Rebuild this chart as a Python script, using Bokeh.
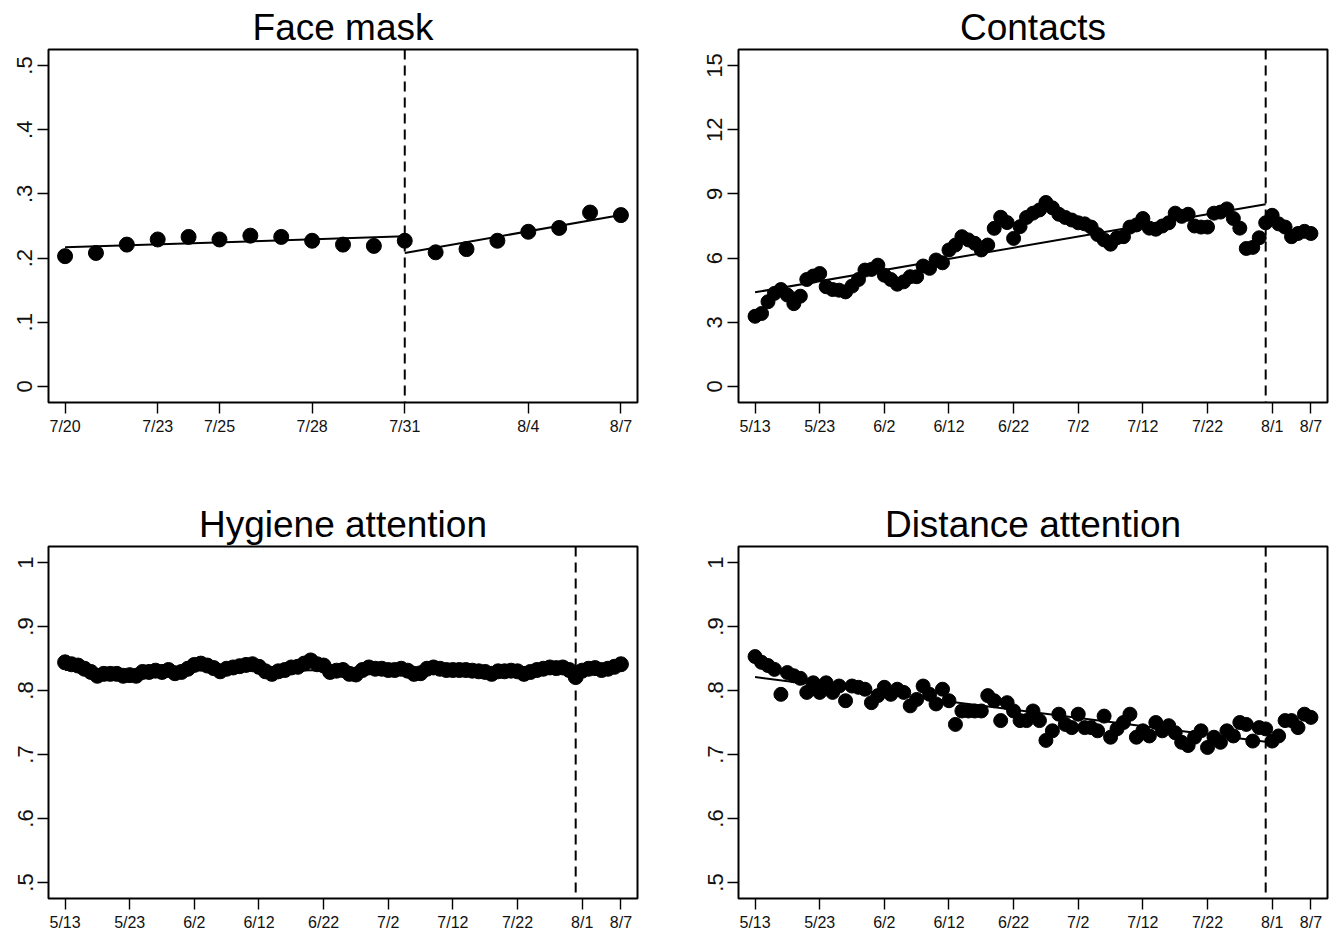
import numpy as np
import pandas as pd
from bokeh.plotting import figure
from bokeh.models import Range1d, FixedTicker, Span, CustomJSTickFormatter
from bokeh.layouts import gridplot
from bokeh.embed import file_html
from bokeh.resources import INLINE

YEAR = 2020

# ---------------- Face mask (7/20 - 8/7) ----------------
mask_start = "7/20"
mask_values = [0.203, 0.208, 0.221, 0.229, 0.233, 0.229, 0.235, 0.233, 0.227,
               0.221, 0.219, 0.227, 0.209, 0.214, 0.227, 0.241, 0.247, 0.271, 0.267]
mask_fit_pre_dates = ["7/20", "7/31"]
mask_fit_pre_values = [0.2167, 0.234]
mask_fit_post_dates = ["7/31", "8/7"]
mask_fit_post_values = [0.208, 0.267]
mask_xticks = ["7/20", "7/23", "7/25", "7/28", "7/31", "8/4", "8/7"]
mask_yticks = [0, 0.1, 0.2, 0.3, 0.4, 0.5]

# ---------------- Daily series (5/13 - 8/7) ----------------
daily_start = "5/13"
contacts_values = [
    3.28, 3.41, 3.96, 4.35, 4.53, 4.27, 3.87, 4.22, 5.00, 5.16,
    5.28, 4.66, 4.53, 4.50, 4.42, 4.69, 5.00, 5.44, 5.47, 5.67,
    5.20, 5.00, 4.78, 4.89, 5.13, 5.13, 5.63, 5.52, 5.91, 5.78,
    6.38, 6.61, 7.00, 6.85, 6.69, 6.38, 6.61, 7.39, 7.91, 7.66,
    6.92, 7.47, 7.90, 8.10, 8.25, 8.60, 8.35, 8.05, 7.90, 7.78,
    7.65, 7.60, 7.45, 7.10, 6.85, 6.65, 6.95, 7.00, 7.45, 7.55,
    7.85, 7.40, 7.35, 7.50, 7.65, 8.10, 7.95, 8.05, 7.50, 7.45,
    7.45, 8.10, 8.15, 8.30, 7.85, 7.40, 6.45, 6.50, 6.95, 7.65,
    8.00, 7.60, 7.45, 7.00, 7.15, 7.25, 7.15]
contacts_fit_dates = ["5/13", "7/31"]
contacts_fit_values = [4.40, 8.52]

hygiene_values = [
    0.844, 0.841, 0.839, 0.834, 0.829, 0.823, 0.826, 0.826, 0.826, 0.823,
    0.824, 0.823, 0.829, 0.829, 0.831, 0.829, 0.832, 0.827, 0.829, 0.834,
    0.840, 0.842, 0.839, 0.835, 0.830, 0.834, 0.836, 0.838, 0.840, 0.841,
    0.837, 0.830, 0.826, 0.830, 0.832, 0.836, 0.837, 0.842, 0.847, 0.841,
    0.839, 0.829, 0.831, 0.832, 0.826, 0.825, 0.832, 0.836, 0.834, 0.834,
    0.832, 0.832, 0.834, 0.831, 0.826, 0.827, 0.834, 0.836, 0.834, 0.832,
    0.832, 0.832, 0.832, 0.831, 0.830, 0.829, 0.826, 0.830, 0.830, 0.831,
    0.830, 0.826, 0.829, 0.832, 0.834, 0.836, 0.835, 0.836, 0.832, 0.821,
    0.831, 0.834, 0.835, 0.832, 0.834, 0.837, 0.841]
hygiene_fit_dates = ["5/13", "7/31"]
hygiene_fit_values = [0.832, 0.831]

distance_values = [
    0.853, 0.844, 0.839, 0.833, 0.794, 0.828, 0.823, 0.819, 0.797, 0.812,
    0.797, 0.812, 0.797, 0.807, 0.784, 0.807, 0.805, 0.802, 0.781, 0.792,
    0.805, 0.794, 0.802, 0.797, 0.776, 0.786, 0.807, 0.794, 0.779, 0.802,
    0.784, 0.747, 0.768, 0.768, 0.768, 0.768, 0.792, 0.784, 0.753, 0.781,
    0.768, 0.753, 0.753, 0.768, 0.753, 0.722, 0.737, 0.763, 0.747, 0.742,
    0.763, 0.742, 0.742, 0.737, 0.760, 0.727, 0.740, 0.750, 0.763, 0.727,
    0.737, 0.729, 0.750, 0.737, 0.745, 0.734, 0.719, 0.714, 0.727, 0.737,
    0.711, 0.727, 0.719, 0.737, 0.729, 0.750, 0.747, 0.721, 0.742, 0.740,
    0.721, 0.729, 0.753, 0.753, 0.742, 0.763, 0.758]
distance_fit_dates = ["5/13", "7/31"]
distance_fit_values = [0.821, 0.720]

daily_xticks = ["5/13", "5/23", "6/2", "6/12", "6/22", "7/2", "7/12", "7/22", "8/1", "8/7"]
contacts_yticks = [0, 3, 6, 9, 12, 15]
attention_yticks = [0.5, 0.6, 0.7, 0.8, 0.9, 1.0]
cutoff_date = "7/31"

FONT = "Liberation Sans"


def to_ts(md):
    m, d = md.split("/")
    return pd.Timestamp(year=YEAR, month=int(m), day=int(d))


def day_of(md, start):
    return (to_ts(md) - to_ts(start)).days


yfmt = CustomJSTickFormatter(code="""
    var s = (Math.round(tick * 10) / 10).toString();
    return s.replace(/^0\\./, '.');
""")


def panel(title, start, values, fit_segments, xticks, yticks, yrange, yformat,
          size, left, right, top, bottom):
    n = len(values)
    x = np.arange(n)
    span = n - 1
    pad = span * 0.0298
    p = figure(width=668, height=468,
               x_range=Range1d(-pad, span + pad), y_range=Range1d(*yrange),
               output_backend="svg", toolbar_location=None,
               min_border_left=left, min_border_right=right,
               min_border_top=top, min_border_bottom=bottom)
    p.background_fill_color = "white"
    p.border_fill_color = "white"
    p.xgrid.visible = False
    p.ygrid.visible = False
    p.outline_line_color = "black"
    p.outline_line_width = 2
    p.outline_line_alpha = 1

    p.title.text = title
    p.title.text_font = FONT
    p.title.text_font_size = "37px"
    p.title.text_font_style = "normal"
    p.title.text_color = "black"
    p.title.align = "center"
    p.title.standoff = 4

    tick_days = [day_of(t, start) for t in xticks]
    p.xaxis.ticker = FixedTicker(ticks=tick_days)
    p.xaxis.major_label_overrides = {d: t for d, t in zip(tick_days, xticks)}
    p.yaxis.ticker = FixedTicker(ticks=yticks)
    if yformat is not None:
        p.yaxis.formatter = yformat
    p.yaxis.major_label_orientation = "vertical"

    for ax in (p.xaxis, p.yaxis):
        ax.axis_line_color = None
        ax.major_tick_in = 0
        ax.major_tick_out = 11
        ax.major_tick_line_width = 1.4
        ax.major_tick_line_color = "black"
        ax.minor_tick_line_color = None
        ax.major_label_text_font = FONT
        ax.major_label_text_color = "#111111"
    p.xaxis.major_label_text_font_size = "16px"
    p.xaxis.major_label_standoff = 4
    p.yaxis.major_label_text_font_size = "22px"
    p.yaxis.major_label_standoff = 5

    cut = day_of(cutoff_date, start)
    p.add_layout(Span(location=cut, dimension="height", line_color="black",
                      line_width=2, line_dash="10 6"))

    p.scatter(x, values, size=size, marker="circle", fill_color="black",
              line_color="black")
    for dates, vals in fit_segments:
        p.line([day_of(d, start) for d in dates], vals, line_color="black",
               line_width=2)
    return p


p1 = panel("Face mask", mask_start, mask_values,
           [(mask_fit_pre_dates, mask_fit_pre_values),
            (mask_fit_post_dates, mask_fit_post_values)],
           mask_xticks, mask_yticks, (-0.025, 0.525), yfmt, 15,
           48, 31, 49, 66)
p2 = panel("Contacts", daily_start, contacts_values,
           [(contacts_fit_dates, contacts_fit_values)],
           daily_xticks, contacts_yticks, (-0.75, 15.75), None, 14,
           70, 9, 49, 66)
p3 = panel("Hygiene attention", daily_start, hygiene_values,
           [(hygiene_fit_dates, hygiene_fit_values)],
           daily_xticks, attention_yticks, (0.475, 1.025), yfmt, 15,
           48, 31, 78, 38)
p4 = panel("Distance attention", daily_start, distance_values,
           [(distance_fit_dates, distance_fit_values)],
           daily_xticks, attention_yticks, (0.475, 1.025), yfmt, 14,
           70, 9, 78, 38)

grid = gridplot([[p1, p2], [p3, p4]], toolbar_location=None)

open("out.html", "w").write(file_html(grid, INLINE))
